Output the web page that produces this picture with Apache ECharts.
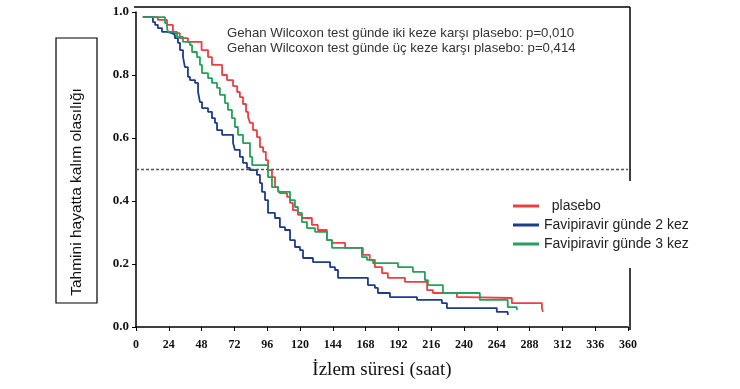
<!DOCTYPE html>
<html><head><meta charset="utf-8">
<script src="https://cdn.jsdelivr.net/npm/echarts@6/dist/echarts.min.js"></script>
<style>html,body{margin:0;padding:0;background:#fff}#c{width:740px;height:389px}</style>
</head><body><div id="c"></div>
<script>
var xTicks = [0,24,48,72,96,120,144,168,192,216,240,264,288,312,336,360];
var seriesNames = ['  plasebo', 'Favipiravir günde 2 kez', 'Favipiravir günde 3 kez'];
var annotation = ['Gehan Wilcoxon test günde iki keze karşı plasebo: p=0,010', 'Gehan Wilcoxon test günde üç keze karşı plasebo: p=0,414'];

var placeboT = [5,16,22.7,27,32,38,48,52.7,55.6,63,66.6,71,74,76,78.3,80.5,82,83.4,85.6,88.5,90.7,93,95,96.6,99.5,101.7,104,105.3,110.5,112.7,114.8,118.5,121.4,128.7,133,139.7,143.4,153,166,171,174.8,180,184.3,196.8,213,217.3,234.8,242,275,297,297.7];
var placeboS = [0.984,0.975,0.959,0.933,0.917,0.905,0.879,0.857,0.832,0.800,0.784,0.765,0.746,0.730,0.708,0.683,0.667,0.648,0.625,0.603,0.571,0.556,0.530,0.498,0.476,0.444,0.435,0.425,0.413,0.394,0.371,0.356,0.346,0.324,0.308,0.276,0.267,0.251,0.229,0.213,0.190,0.171,0.156,0.143,0.117,0.108,0.095,0.092,0.076,0.060,0.048];

var twiceT = [5,12.4,14,16,19,22.7,26.3,28.5,30.7,32.2,34.4,35.8,38,39.5,43.2,45.4,46.8,48.3,52.7,55.6,57.8,59.3,63,71,72.4,76,78.3,81.2,83.4,88.5,90.7,92.2,94.4,96.6,101.7,105.3,109,112.7,116.3,120,122.2,129.5,142,145.6,147.8,169.7,174.8,177,185.8,205.6,223.8,227.5,264,272];
var twiceS = [0.984,0.968,0.959,0.949,0.937,0.933,0.927,0.917,0.902,0.879,0.857,0.825,0.794,0.784,0.775,0.746,0.714,0.695,0.683,0.663,0.648,0.625,0.610,0.584,0.562,0.540,0.521,0.505,0.498,0.483,0.457,0.429,0.403,0.362,0.346,0.317,0.308,0.276,0.254,0.244,0.219,0.206,0.190,0.181,0.156,0.133,0.124,0.108,0.095,0.086,0.076,0.060,0.048,0.038];

var thriceT = [5,21.2,22.7,23.4,30,34.4,39.5,41,44.6,46.8,48.3,52.7,55.6,59.3,61.4,65.1,67.3,70.2,72.4,74.6,78.3,83.4,85,96.6,99.5,104,112.7,116.3,118.5,121.4,125.1,131,139.7,143.4,165.3,169,173.4,191.7,202.6,211.4,213.6,224.6,251.6,272,278.7];
var thriceS = [0.984,0.965,0.949,0.937,0.921,0.905,0.895,0.873,0.857,0.832,0.806,0.790,0.775,0.759,0.737,0.711,0.689,0.663,0.635,0.610,0.584,0.540,0.514,0.476,0.444,0.429,0.403,0.381,0.362,0.333,0.314,0.302,0.276,0.251,0.222,0.213,0.203,0.190,0.175,0.149,0.133,0.108,0.086,0.063,0.054];

var colors = ['#ee3e44', '#1d3c8f', '#22a35c'];
function zip(t, s){ return t.map(function(v,i){ return [v, s[i]]; }); }

var chart = echarts.init(document.getElementById('c'), null, {renderer:'canvas'});
var serif = 'Liberation Serif';
var sans = 'Liberation Sans';
var option = {
  animation: false,
  backgroundColor: '#fff',
  grid: {left: 136, right: 112, top: 12, bottom: 62},
  xAxis: {
    type: 'value', min: 0, max: 360, interval: 24, offset: 3,
    axisLine: {show: true, lineStyle: {color: '#000', width: 1.5}},
    axisTick: {show: true, length: 4, lineStyle: {color: '#000'}},
    axisLabel: {color: '#111', fontFamily: serif, fontSize: 12, fontWeight: 'bold', margin: 9},
    splitLine: {show: false},
    name: 'İzlem süresi (saat)', nameLocation: 'middle', nameGap: 31,
    nameTextStyle: {fontFamily: serif, fontSize: 19, color: '#111'}
  },
  yAxis: {
    type: 'value', min: 0, max: 1, interval: 0.2, offset: 2,
    axisLine: {show: true, lineStyle: {color: '#000', width: 1.5}},
    axisTick: {show: true, length: 4, lineStyle: {color: '#000'}},
    axisLabel: {color: '#111', fontFamily: serif, fontSize: 13, fontWeight: 'bold', margin: 5,
      formatter: function(v){ return v.toFixed(1); }},
    splitLine: {show: false}
  },
  legend: {
    orient: 'vertical', left: 511, top: 197, itemWidth: 26, itemHeight: 3, itemGap: 5,
    backgroundColor: '#fff', padding: [2, 6, 2, 2],
    icon: 'rect',
    textStyle: {fontFamily: sans, fontSize: 14, color: '#222'},
    data: seriesNames
  },
  graphic: [
    {type: 'line', shape: {x1: 134, y1: 7, x2: 630, y2: 7}, style: {stroke: '#000', lineWidth: 1.5}},
    {type: 'line', shape: {x1: 630, y1: 7, x2: 630, y2: 181}, style: {stroke: '#000', lineWidth: 1.5}},
    {type: 'line', shape: {x1: 630, y1: 268, x2: 630, y2: 330}, style: {stroke: '#000', lineWidth: 1.5}},
    {type: 'rect', shape: {x: 56, y: 38, width: 41, height: 265}, style: {fill: 'none', stroke: '#000', lineWidth: 1.2}},
    {type: 'text', x: 77, y: 192, rotation: Math.PI/2,
      style: {text: 'Tahmini hayatta kalım olasılığı', font: '15.5px "Liberation Sans"', fill: '#111', textAlign: 'center', textVerticalAlign: 'middle'}},
    {type: 'text', x: 227, y: 33, style: {text: annotation[0], font: '13.2px "Liberation Sans"', fill: '#333', textAlign: 'left', textVerticalAlign: 'middle'}},
    {type: 'text', x: 227, y: 48, style: {text: annotation[1], font: '13.2px "Liberation Sans"', fill: '#333', textAlign: 'left', textVerticalAlign: 'middle'}}
  ],
  series: [
    {name: seriesNames[0], type: 'line', step: 'end', showSymbol: false, symbol: 'none',
     data: zip(placeboT, placeboS), lineStyle: {color: colors[0], width: 1.8}, itemStyle: {color: colors[0]}, z: 3,
     markLine: {silent: true, symbol: 'none', label: {show: false},
       lineStyle: {color: '#555', type: [3, 2], width: 1.3},
       data: [[{coord: [0, 0.5]}, {coord: [360, 0.5]}]]}},
    {name: seriesNames[1], type: 'line', step: 'end', showSymbol: false, symbol: 'none',
     data: zip(twiceT, twiceS), lineStyle: {color: colors[1], width: 1.8}, itemStyle: {color: colors[1]}, z: 4},
    {name: seriesNames[2], type: 'line', step: 'end', showSymbol: false, symbol: 'none',
     data: zip(thriceT, thriceS), lineStyle: {color: colors[2], width: 1.8}, itemStyle: {color: colors[2]}, z: 5}
  ]
};
chart.setOption(option);
</script></body></html>
